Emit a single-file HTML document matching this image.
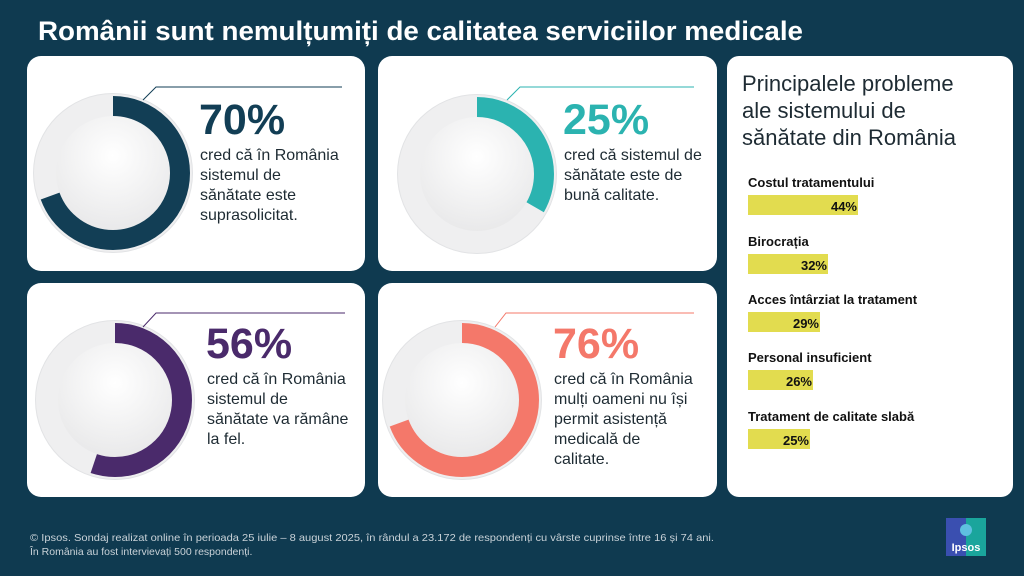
<!DOCTYPE html>
<html><head><meta charset="utf-8"><style>
html,body{margin:0;padding:0;background:#0f3a50;}
svg{display:block;font-family:"Liberation Sans",sans-serif;}
</style></head><body>
<svg width="1024" height="576" viewBox="0 0 1024 576">
<defs>
<radialGradient id="g" cx="50%" cy="35%" r="65%"><stop offset="0" stop-color="#ffffff"/><stop offset="1" stop-color="#e9e9ea"/></radialGradient>
</defs>
<rect width="1024" height="576" fill="#0f3a50"/>
<text x="38" y="40" font-size="27" font-weight="bold" fill="#fff" textLength="765" lengthAdjust="spacingAndGlyphs">Românii sunt nemulțumiți de calitatea serviciilor medicale</text>
<rect x="27" y="56" width="338" height="215" rx="14" fill="#fff"/>
<rect x="378" y="56" width="339" height="215" rx="14" fill="#fff"/>
<rect x="27" y="283" width="338" height="214" rx="14" fill="#fff"/>
<rect x="378" y="283" width="339" height="214" rx="14" fill="#fff"/>
<rect x="727" y="56" width="286" height="441" rx="12" fill="#fff"/>

<g transform="translate(113,173)">
<circle r="80" fill="#e2e3e5"/><circle r="79" fill="#efeff0"/><circle r="57" fill="url(#g)"/>
<circle r="67" fill="none" stroke="#123e55" stroke-width="20" stroke-dasharray="292 500" transform="rotate(-90)"/>
<polyline points="30,-73 43,-86 229,-86" fill="none" stroke="#123e55" stroke-width="1"/>
</g>
<g transform="translate(477,174)">
<circle r="80" fill="#e2e3e5"/><circle r="79" fill="#efeff0"/><circle r="57" fill="url(#g)"/>
<circle r="67" fill="none" stroke="#2bb3b0" stroke-width="20" stroke-dasharray="140 500" transform="rotate(-90)"/>
<polyline points="30,-74 43,-87 217,-87" fill="none" stroke="#2bb3b0" stroke-width="1"/>
</g>
<g transform="translate(115,400)">
<circle r="80" fill="#e2e3e5"/><circle r="79" fill="#efeff0"/><circle r="57" fill="url(#g)"/>
<circle r="67" fill="none" stroke="#4a2a6b" stroke-width="20" stroke-dasharray="232 500" transform="rotate(-90)"/>
<polyline points="28,-73 41,-87 230,-87" fill="none" stroke="#4a2a6b" stroke-width="1"/>
</g>
<g transform="translate(462,400)">
<circle r="80" fill="#e2e3e5"/><circle r="79" fill="#efeff0"/><circle r="57" fill="url(#g)"/>
<circle r="67" fill="none" stroke="#f4786a" stroke-width="20" stroke-dasharray="292 500" transform="rotate(-90)"/>
<polyline points="33,-73 44,-87 232,-87" fill="none" stroke="#f4786a" stroke-width="1"/>
</g>

<g font-size="16" fill="#1e2b33">
<text x="199" y="134" font-size="43" font-weight="bold" fill="#123e55">70%</text>
<text x="200" y="160">cred că în România</text><text x="200" y="180">sistemul de</text><text x="200" y="200">sănătate este</text><text x="200" y="220">suprasolicitat.</text>

<text x="563" y="134" font-size="43" font-weight="bold" fill="#2bb3b0">25%</text>
<text x="564" y="160">cred că sistemul de</text><text x="564" y="180">sănătate este de</text><text x="564" y="200">bună calitate.</text>

<text x="206" y="358" font-size="43" font-weight="bold" fill="#4a2a6b">56%</text>
<text x="207" y="384">cred că în România</text><text x="207" y="404">sistemul de</text><text x="207" y="424">sănătate va rămâne</text><text x="207" y="444">la fel.</text>

<text x="553" y="358" font-size="43" font-weight="bold" fill="#f4786a">76%</text>
<text x="554" y="384">cred că în România</text><text x="554" y="404">mulți oameni nu își</text><text x="554" y="424">permit asistență</text><text x="554" y="444">medicală de</text><text x="554" y="464">calitate.</text>
</g>

<g fill="#1e2b33" font-size="22">
<text x="742" y="91">Principalele probleme</text>
<text x="742" y="118">ale sistemului de</text>
<text x="742" y="145">sănătate din România</text>
</g>
<g font-size="13" font-weight="bold" fill="#111">
<text x="748" y="187">Costul tratamentului</text>
<rect x="748" y="195" width="110" height="20" fill="#e2dc4f"/><text x="857" y="211" text-anchor="end">44%</text>
<text x="748" y="246">Birocrația</text>
<rect x="748" y="254" width="80" height="20" fill="#e2dc4f"/><text x="827" y="270" text-anchor="end">32%</text>
<text x="748" y="304">Acces întârziat la tratament</text>
<rect x="748" y="312" width="72" height="20" fill="#e2dc4f"/><text x="819" y="328" text-anchor="end">29%</text>
<text x="748" y="362">Personal insuficient</text>
<rect x="748" y="370" width="65" height="20" fill="#e2dc4f"/><text x="812" y="386" text-anchor="end">26%</text>
<text x="748" y="421">Tratament de calitate slabă</text>
<rect x="748" y="429" width="62" height="20" fill="#e2dc4f"/><text x="809" y="445" text-anchor="end">25%</text>
</g>

<g font-size="10.5" fill="#c9d2d8">
<text x="30" y="541" textLength="684" lengthAdjust="spacingAndGlyphs">© Ipsos. Sondaj realizat online în perioada 25 iulie – 8 august 2025, în rândul a 23.172 de respondenți cu vârste cuprinse între 16 și 74 ani.</text>
<text x="30" y="555">În România au fost intervievați 500 respondenți.</text>
</g>
<g transform="translate(946,518)">
<rect width="20" height="38" fill="#3a4fb0"/><rect x="20" width="20" height="38" fill="#1aa59c"/>
<circle cx="20" cy="12" r="6" fill="#5fc0e0"/>
<text x="20" y="33" font-size="11" font-weight="bold" fill="#fff" text-anchor="middle">Ipsos</text>
</g>
</svg>
</body></html>
